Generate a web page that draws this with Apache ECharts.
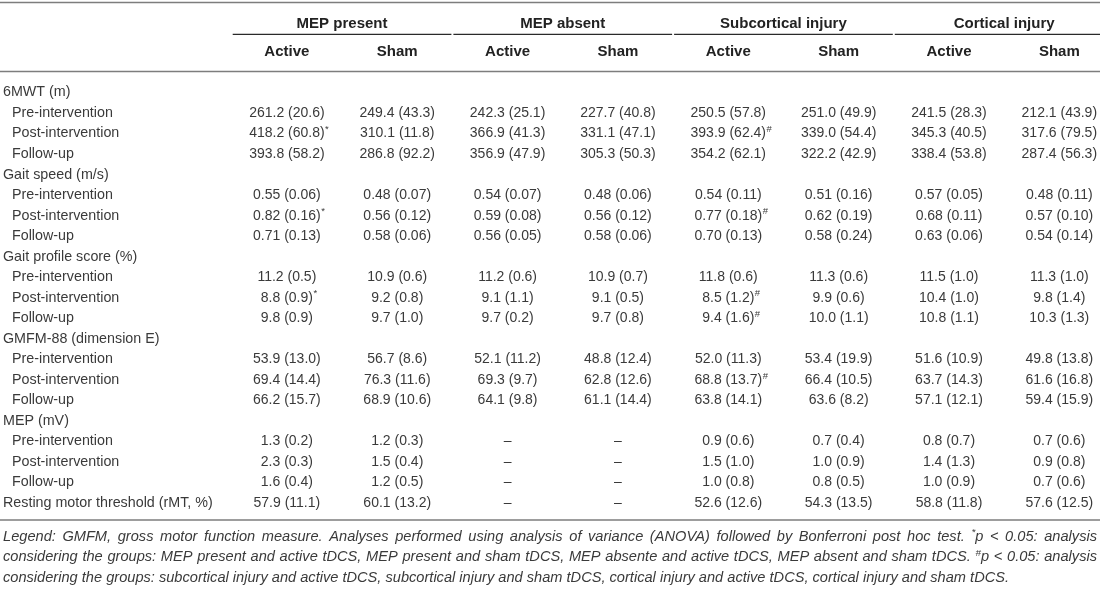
<!DOCTYPE html>
<html>
<head>
<meta charset="utf-8">
<script src="https://cdn.jsdelivr.net/npm/echarts@6/dist/echarts.min.js"></script>
<style>
html, body { margin: 0; padding: 0; background: #fff; }
#main { width: 1100px; height: 593px; }
</style>
</head>
<body>
<div id="main"></div>
<script>
// 表头
var groups = ['MEP present', 'MEP absent', 'Subcortical injury', 'Cortical injury'];
var arms = ['Active', 'Sham', 'Active', 'Sham', 'Active', 'Sham', 'Active', 'Sham'];
var phases = ['Pre-intervention', 'Post-intervention', 'Follow-up'];

// 6MWT (m)
var mwtMean = [
    [261.2, 249.4, 242.3, 227.7, 250.5, 251.0, 241.5, 212.1],
    [418.2, 310.1, 366.9, 331.1, 393.9, 339.0, 345.3, 317.6],
    [393.8, 286.8, 356.9, 305.3, 354.2, 322.2, 338.4, 287.4]
];
var mwtSd = [
    [20.6, 43.3, 25.1, 40.8, 57.8, 49.9, 28.3, 43.9],
    [60.8, 11.8, 41.3, 47.1, 62.4, 54.4, 40.5, 79.5],
    [58.2, 92.2, 47.9, 50.3, 62.1, 42.9, 53.8, 56.3]
];
var mwtMarks = [[1, 0, '*'], [1, 4, '#']];

// Gait speed (m/s)
var speedMean = [
    [0.55, 0.48, 0.54, 0.48, 0.54, 0.51, 0.57, 0.48],
    [0.82, 0.56, 0.59, 0.56, 0.77, 0.62, 0.68, 0.57],
    [0.71, 0.58, 0.56, 0.58, 0.70, 0.58, 0.63, 0.54]
];
var speedSd = [
    [0.06, 0.07, 0.07, 0.06, 0.11, 0.16, 0.05, 0.11],
    [0.16, 0.12, 0.08, 0.12, 0.18, 0.19, 0.11, 0.10],
    [0.13, 0.06, 0.05, 0.06, 0.13, 0.24, 0.06, 0.14]
];
var speedMarks = [[1, 0, '*'], [1, 4, '#']];

// Gait profile score (%)
var gpsMean = [
    [11.2, 10.9, 11.2, 10.9, 11.8, 11.3, 11.5, 11.3],
    [8.8, 9.2, 9.1, 9.1, 8.5, 9.9, 10.4, 9.8],
    [9.8, 9.7, 9.7, 9.7, 9.4, 10.0, 10.8, 10.3]
];
var gpsSd = [
    [0.5, 0.6, 0.6, 0.7, 0.6, 0.6, 1.0, 1.0],
    [0.9, 0.8, 1.1, 0.5, 1.2, 0.6, 1.0, 1.4],
    [0.9, 1.0, 0.2, 0.8, 1.6, 1.1, 1.1, 1.3]
];
var gpsMarks = [[1, 0, '*'], [1, 4, '#'], [2, 4, '#']];

// GMFM-88 (dimension E)
var gmfmMean = [
    [53.9, 56.7, 52.1, 48.8, 52.0, 53.4, 51.6, 49.8],
    [69.4, 76.3, 69.3, 62.8, 68.8, 66.4, 63.7, 61.6],
    [66.2, 68.9, 64.1, 61.1, 63.8, 63.6, 57.1, 59.4]
];
var gmfmSd = [
    [13.0, 8.6, 11.2, 12.4, 11.3, 19.9, 10.9, 13.8],
    [14.4, 11.6, 9.7, 12.6, 13.7, 10.5, 14.3, 16.8],
    [15.7, 10.6, 9.8, 14.4, 14.1, 8.2, 12.1, 15.9]
];
var gmfmMarks = [[1, 4, '#']];

// MEP (mV)
var mepMean = [
    [1.3, 1.2, null, null, 0.9, 0.7, 0.8, 0.7],
    [2.3, 1.5, null, null, 1.5, 1.0, 1.4, 0.9],
    [1.6, 1.2, null, null, 1.0, 0.8, 1.0, 0.7]
];
var mepSd = [
    [0.2, 0.3, null, null, 0.6, 0.4, 0.7, 0.6],
    [0.3, 0.4, null, null, 1.0, 0.9, 1.3, 0.8],
    [0.4, 0.5, null, null, 0.8, 0.5, 0.9, 0.6]
];

// Resting motor threshold (rMT, %)
var rmtMean = [57.9, 60.1, null, null, 52.6, 54.3, 58.8, 57.6];
var rmtSd = [11.1, 13.2, null, null, 12.6, 13.5, 11.8, 12.5];

var footnote = [
    'Legend: GMFM, gross motor function measure. Analyses performed using analysis of variance (ANOVA) followed by Bonferroni post hoc test. *p < 0.05: analysis',
    'considering the groups: MEP present and active tDCS, MEP present and sham tDCS, MEP absente and active tDCS, MEP absent and sham tDCS. #p < 0.05: analysis',
    'considering the groups: subcortical injury and active tDCS, subcortical injury and sham tDCS, cortical injury and active tDCS, cortical injury and sham tDCS.'
];

var FONT = '"Liberation Sans", Arial, Helvetica, sans-serif';
var BODY = '#3a3a3a';
var HEAD = '#222222';
var RULE = '#7d7d7d';
var CELL_SIZE = 14;
var LABEL_SIZE = 14.3;

var measureCtx = document.createElement('canvas').getContext('2d');
function textWidth(s, size, style) {
    measureCtx.font = (style || 'normal') + ' normal ' + size + 'px ' + FONT;
    return measureCtx.measureText(s).width;
}

function fmt(v, sd, dec) {
    if (v == null) return '\u2013';
    return v.toFixed(dec) + ' (' + sd.toFixed(dec) + ')';
}

// 组装行和单元格
var measures = [
    { label: '6MWT (m)', mean: mwtMean, sd: mwtSd, dec: 1, marks: mwtMarks },
    { label: 'Gait speed (m/s)', mean: speedMean, sd: speedSd, dec: 2, marks: speedMarks },
    { label: 'Gait profile score (%)', mean: gpsMean, sd: gpsSd, dec: 1, marks: gpsMarks },
    { label: 'GMFM-88 (dimension E)', mean: gmfmMean, sd: gmfmSd, dec: 1, marks: gmfmMarks },
    { label: 'MEP (mV)', mean: mepMean, sd: mepSd, dec: 1, marks: [] }
];
var rowLabels = [];
var rowIndent = [];
var cells = [];
measures.forEach(function (m) {
    rowLabels.push(m.label);
    rowIndent.push(false);
    phases.forEach(function (p, i) {
        rowLabels.push(p);
        rowIndent.push(true);
        var r = rowLabels.length - 1;
        m.mean[i].forEach(function (v, c) {
            var sup = '';
            m.marks.forEach(function (k) { if (k[0] === i && k[1] === c) sup = k[2]; });
            cells.push({ col: c, row: r, text: fmt(v, m.sd[i][c], m.dec), sup: sup });
        });
    });
});
rowLabels.push('Resting motor threshold (rMT, %)');
rowIndent.push(false);
rmtMean.forEach(function (v, c) {
    cells.push({ col: c, row: rowLabels.length - 1, text: fmt(v, rmtSd[c], 1), sup: '' });
});

// 脚注两端对齐
function footnoteGraphics() {
    var els = [];
    var left = 3, right = 1097, y0 = 536.5, step = 20.6;
    // 字号按最后一行的长度取
    var size = 13 * (1010 - left) / textWidth(footnote[footnote.length - 1], 13, 'italic');
    var supSize = size * 0.68;
    footnote.forEach(function (line, li) {
        var words = line.split(' ');
        var widths = words.map(function (w) {
            if (w[0] === '*' || w[0] === '#') {
                return textWidth(w[0], supSize, 'italic') + textWidth(w.slice(1), size, 'italic');
            }
            return textWidth(w, size, 'italic');
        });
        var total = widths.reduce(function (a, b) { return a + b; }, 0);
        var last = li === footnote.length - 1;
        var gap = last ? textWidth(' ', size, 'italic') : (right - left - total) / (words.length - 1);
        var x = left;
        var y = y0 + li * step;
        words.forEach(function (w, wi) {
            if (w[0] === '*' || w[0] === '#') {
                els.push({ type: 'text', x: x, y: y - 4, style: { text: w[0], fontSize: supSize, fontStyle: 'italic', fontFamily: FONT, fill: BODY, verticalAlign: 'middle' } });
                var sw = textWidth(w[0], supSize, 'italic');
                els.push({ type: 'text', x: x + sw, y: y, style: { text: w.slice(1), fontSize: size, fontStyle: 'italic', fontFamily: FONT, fill: BODY, verticalAlign: 'middle' } });
            } else {
                els.push({ type: 'text', x: x, y: y, style: { text: w, fontSize: size, fontStyle: 'italic', fontFamily: FONT, fill: BODY, verticalAlign: 'middle' } });
            }
            x += widths[wi] + gap;
        });
    });
    return els;
}

function rule(y) {
    return { type: 'line', shape: { x1: 0, y1: y, x2: 1100, y2: y }, style: { stroke: RULE, lineWidth: 1.5 } };
}

var myChart = echarts.init(document.getElementById('main'), null, { renderer: 'canvas' });
var gridLeft = 231.7;
var gridTop = 82.2;
var rowH = 20.53;

var option = {
    backgroundColor: '#fff',
    animation: false,
    grid: {
        left: gridLeft, width: 882.8, top: gridTop, height: rowH * rowLabels.length,
        containLabel: false, outerBoundsMode: 'none'
    },
    xAxis: [{
        type: 'category',
        data: arms,
        position: 'top',
        axisLine: { show: false },
        axisTick: { show: false },
        splitLine: { show: false },
        axisLabel: {
            interval: 0, margin: 30, verticalAlign: 'middle',
            fontFamily: FONT, fontWeight: 'bold', fontSize: 15, color: HEAD
        }
    }, {
        type: 'category',
        data: groups,
        position: 'top',
        axisLine: { show: false },
        axisTick: { show: false },
        splitLine: { show: false },
        axisLabel: {
            interval: 0, margin: 58, verticalAlign: 'middle',
            fontFamily: FONT, fontWeight: 'bold', fontSize: 15, color: HEAD
        }
    }],
    yAxis: {
        type: 'category',
        data: rowLabels,
        inverse: true,
        axisLine: { show: false },
        axisTick: { show: false },
        splitLine: { show: false },
        axisLabel: {
            interval: 0,
            align: 'left',
            margin: gridLeft - 3,
            fontFamily: FONT,
            fontSize: LABEL_SIZE,
            color: BODY,
            formatter: function (value, index) {
                return rowIndent[index] ? '{sub|' + value + '}' : value;
            },
            rich: {
                sub: { padding: [0, 0, 0, 9], fontFamily: FONT, fontSize: LABEL_SIZE, color: BODY }
            }
        }
    },
    graphic: [rule(2.5), rule(71.5), rule(520)].concat(footnoteGraphics()),
    series: [{
        type: 'custom',
        xAxisIndex: 0,
        yAxisIndex: 0,
        data: cells.map(function (c) { return [c.col, c.row]; }),
        renderItem: function (params, api) {
            var cell = cells[params.dataIndex];
            var p = api.coord([api.value(0), api.value(1)]);
            var children = [{
                type: 'text', x: p[0], y: p[1],
                style: { text: cell.text, fontSize: CELL_SIZE, fontFamily: FONT, fill: BODY, align: 'center', verticalAlign: 'middle' }
            }];
            if (cell.sup) {
                var w = textWidth(cell.text, CELL_SIZE);
                children.push({
                    type: 'text', x: p[0] + w / 2 + 0.5, y: p[1] - 4,
                    style: { text: cell.sup, fontSize: 9.5, fontFamily: FONT, fill: BODY, align: 'left', verticalAlign: 'middle' }
                });
            }
            return { type: 'group', children: children };
        }
    }, {
        type: 'custom',
        xAxisIndex: 1,
        yAxisIndex: 0,
        data: groups.map(function (g, i) { return [i, 0]; }),
        renderItem: function (params, api) {
            var p = api.coord([api.value(0), 0]);
            var w = api.size([1, 0])[0];
            var y = p[1] - 58;
            return {
                type: 'line',
                shape: { x1: p[0] - w / 2 + 1, y1: y, x2: Math.min(p[0] + w / 2 - 1, 1100), y2: y },
                style: { stroke: '#2a2a2a', lineWidth: 1.3 }
            };
        }
    }]
};

myChart.setOption(option);
</script>
</body>
</html>
